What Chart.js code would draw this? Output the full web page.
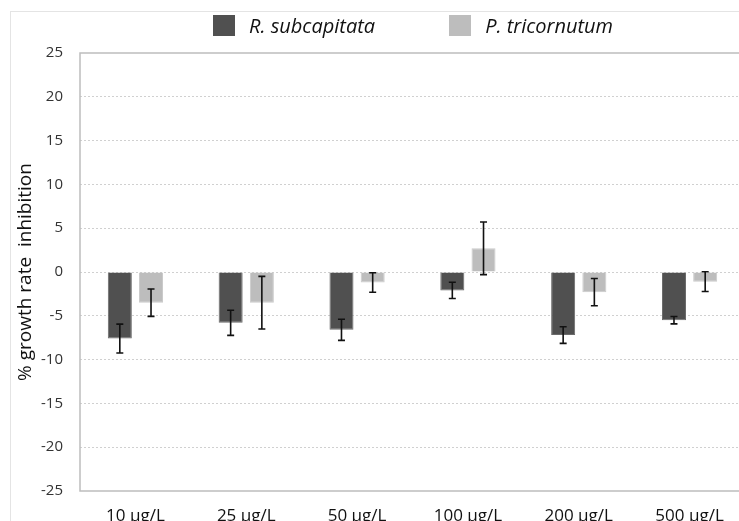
<!DOCTYPE html>
<html>
<head>
<meta charset="utf-8">
<script src="https://cdn.jsdelivr.net/npm/chart.js@4.4.1/dist/chart.umd.min.js"></script>
<style>
  html, body { margin: 0; padding: 0; background: #fff; overflow: hidden; width: 739px; height: 521px; }
  #frame { position: absolute; left: 10px; top: 11px; width: 800px; height: 600px; border-left: 1px solid #e4e4e4; border-top: 1px solid #e4e4e4; }
  #wrap { position: absolute; left: 0; top: 0; width: 760px; height: 521px; }
  #legend { position: absolute; top: 12px; left: 213px; display: flex; align-items: center; font-family: "Open Sans"; font-style: italic; font-size: 20px; color: #111; }
  .item { display: flex; align-items: center; margin-right: 74px; }
  .box { width: 22px; height: 21px; margin-right: 14px; }
</style>
</head>
<body>
<div id="frame"></div>
<div id="wrap"><canvas id="barChart" width="760" height="521"></canvas></div>
<div id="legend"></div>
<script>
  // categories and values
  var categories = ["10 µg/L", "25 µg/L", "50 µg/L", "100 µg/L", "200 µg/L", "500 µg/L"];
  var rSub = [-7.6, -5.8, -6.6, -2.1, -7.2, -5.5];
  var rSubErr = [1.65, 1.43, 1.2, 0.93, 0.95, 0.42];
  var pTri = [-3.5, -3.5, -1.2, 2.7, -2.3, -1.1];
  var pTriErr = [1.56, 3.0, 1.12, 3.0, 1.55, 1.12];
  var yTicks = [25, 20, 15, 10, 5, 0, -5, -10, -15, -20, -25];

  var seriesNames = ["R. subcapitata", "P. tricornutum"];
  var seriesColors = ["#505050", "#bdbdbd"];
  var seriesBorders = ["#6a6a6a", "#cbcbcb"];

  //-------------
  //- LEGEND (html) -
  //-------------
  var legendEl = document.getElementById("legend");
  seriesNames.forEach(function (name, i) {
    var item = document.createElement("div");
    item.className = "item";
    var box = document.createElement("span");
    box.className = "box";
    box.style.background = seriesColors[i];
    var label = document.createElement("span");
    label.textContent = name;
    item.appendChild(box);
    item.appendChild(label);
    legendEl.appendChild(item);
  });

  // grey box round the plot area
  var plotBox = {
    id: "plotBox",
    beforeDatasetsDraw: function (chart) {
      var a = chart.chartArea, ctx = chart.ctx;
      ctx.save();
      ctx.strokeStyle = "#bdbdbd";
      ctx.lineWidth = 1.5;
      ctx.strokeRect(a.left, a.top, a.right - a.left, a.bottom - a.top);
      ctx.restore();
    }
  };

  // error bars, drawn through the y scale
  var errorBars = {
    id: "errorBars",
    afterDatasetsDraw: function (chart) {
      var ctx = chart.ctx, y = chart.scales.y;
      ctx.save();
      ctx.strokeStyle = "#111";
      ctx.lineWidth = 1.6;
      chart.data.datasets.forEach(function (ds, di) {
        var meta = chart.getDatasetMeta(di);
        meta.data.forEach(function (bar, i) {
          var v = ds.data[i], e = ds.errors[i];
          var x = bar.x;
          var yTop = y.getPixelForValue(v + e);
          var yBot = y.getPixelForValue(v - e);
          ctx.beginPath();
          ctx.moveTo(x, yTop); ctx.lineTo(x, yBot);
          ctx.moveTo(x - 3.5, yTop); ctx.lineTo(x + 3.5, yTop);
          ctx.moveTo(x - 3.5, yBot); ctx.lineTo(x + 3.5, yBot);
          ctx.stroke();
        });
      });
      ctx.restore();
    }
  };

  var barChartData = {
    labels: categories,
    datasets: [
      {
        label: seriesNames[0],
        data: rSub,
        errors: rSubErr,
        backgroundColor: seriesColors[0],
        borderColor: seriesBorders[0],
        borderWidth: 1
      },
      {
        label: seriesNames[1],
        data: pTri,
        errors: pTriErr,
        backgroundColor: seriesColors[1],
        borderColor: seriesBorders[1],
        borderWidth: 1
      }
    ]
  };

  var barChartOptions = {
    responsive: false,
    animation: false,
    layout: { padding: { top: 53, right: 15, left: 0, bottom: 0 } },
    datasets: { bar: { categoryPercentage: 0.563, barPercentage: 0.77 } },
    plugins: { legend: { display: false }, tooltip: { enabled: false } },
    scales: {
      x: {
        grid: { display: false, drawTicks: false },
        border: { display: false },
        ticks: { color: "#111", padding: 15, font: { family: "Open Sans", size: 17 } },
        afterFit: function (axis) { axis.height = 30; }
      },
      y: {
        min: -25,
        max: 25,
        afterBuildTicks: function (axis) {
          axis.ticks = yTicks.map(function (v) { return { value: v }; });
        },
        afterFit: function (axis) { axis.width = 80; },
        grid: {
          drawTicks: false,
          lineWidth: 1,
          color: function (c) {
            var v = c.tick && c.tick.value;
            return (v === 25 || v === -25) ? "rgba(0,0,0,0)" : "#d0d0d0";
          }
        },
        border: { display: false, dash: [2, 2] },
        ticks: { color: "#333", padding: 17, font: { family: "Open Sans", size: 15 } },
        title: {
          display: true,
          text: "% growth rate  inhibition",
          color: "#111",
          padding: { top: 14, bottom: 0 },
          font: { family: "Open Sans", size: 19 }
        }
      }
    }
  };

  var barChartCanvas = document.getElementById("barChart").getContext("2d");
  var barChart = new Chart(barChartCanvas, {
    type: "bar",
    data: barChartData,
    options: barChartOptions,
    plugins: [plotBox, errorBars]
  });
</script>
</body>
</html>
